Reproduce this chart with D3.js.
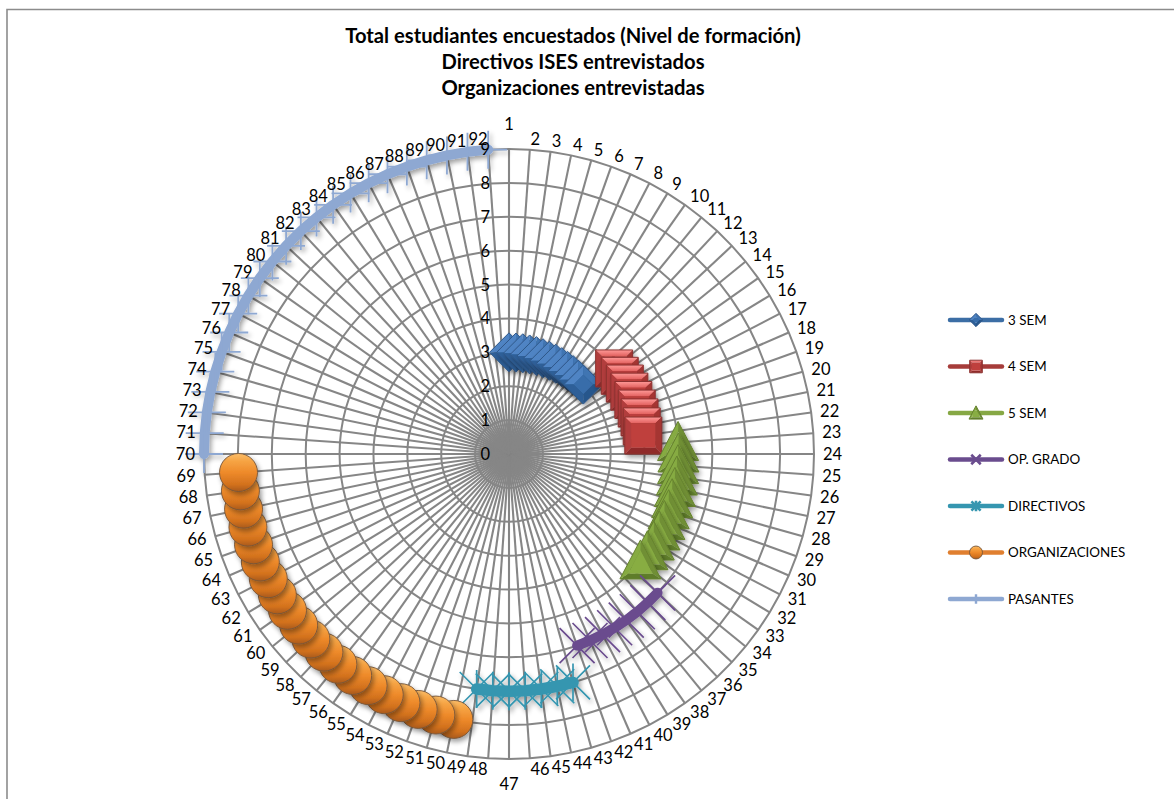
<!DOCTYPE html>
<html>
<head>
<meta charset="utf-8">
<script src="https://cdnjs.cloudflare.com/ajax/libs/d3/7.8.5/d3.min.js"></script>
<style>
html,body{margin:0;padding:0;background:#fff;overflow:hidden}
svg{display:block}
text{font-family:Lato,"Open Sans",sans-serif;fill:#000}
</style>
</head>
<body>
<svg id="c" width="1174" height="799"></svg>
<script>
const titleLines = ["Total estudiantes encuestados (Nivel de formación)", "Directivos ISES entrevistados", "Organizaciones entrevistadas"];
const categories = ["1","2","3","4","5","6","7","8","9","10","11","12","13","14","15","16","17","18","19","20","21","22","23","24","25","26","27","28","29","30","31","32","33","34","35","36","37","38","39","40","41","42","43","44","45","46","47","48","49","50","51","52","53","54","55","56","57","58","59","60","61","62","63","64","65","66","67","68","69","70","71","72","73","74","75","76","77","78","79","80","81","82","83","84","85","86","87","88","89","90","91","92"];
const valueTicks = [0,1,2,3,4,5,6,7,8,9];
const seriesNames = ["3 SEM","4 SEM","5 SEM","OP. GRADO","DIRECTIVOS","ORGANIZACIONES","PASANTES"];
const seriesFirstCategory = [1,14,23,35,43,50,70];
const sem3 = [3,3,3,3,3,3,3,3,3,3,3,3,3];
const sem4 = [4,4,4,4,4,4,4,4,4];
const sem5 = [5,5,5,5,5,5,5,5,5,5,5,5];
const opGrado = [6,6,6,6,6,6,6,6];
const directivos = [7,7,7,7,7,7,7];
const organizaciones = [8,8,8,8,8,8,8,8,8,8,8,8,8,8,8,8,8,8,8,8];
const pasantes = [9,9,9,9,9,9,9,9,9,9,9,9,9,9,9,9,9,9,9,9,9,9,9];
const seriesValues = [sem3,sem4,sem5,opGrado,directivos,organizaciones,pasantes];
const lineColors = ["#3c6ea5","#a63c3a","#86a844","#6a4c8e","#3596b0","#e07f2f","#8ea8d2"];
const strokeMarkerSeries = [3,4,6];

const svg = d3.select("#c");
const cx = 509, cy = 454;
const r = d3.scaleLinear().domain([0,9]).range([0,305]);
const angle = d3.scalePoint().domain(categories).range([0, 2*Math.PI*91/92]);
const gray = "#868686";

const defs = svg.append("defs");
const f = defs.append("filter").attr("id","sh").attr("x","-30%").attr("y","-30%").attr("width","170%").attr("height","170%");
f.append("feGaussianBlur").attr("in","SourceAlpha").attr("stdDeviation",2.4).attr("result","b");
f.append("feOffset").attr("in","b").attr("dx",1.5).attr("dy",3).attr("result","o");
f.append("feComponentTransfer").attr("in","o").attr("result","a").append("feFuncA").attr("type","linear").attr("slope",0.38);
const m = f.append("feMerge"); m.append("feMergeNode").attr("in","a"); m.append("feMergeNode").attr("in","SourceGraphic");
const vg = (id,stops)=>{const g=defs.append("linearGradient").attr("id",id).attr("x1",0).attr("x2",0).attr("y1",0).attr("y2",1);
  stops.forEach(s=>g.append("stop").attr("offset",s[0]).attr("stop-color",s[1]));};
vg("ball",[[0,"#fbbd68"],[0.2,"#f6a444"],[0.5,"#ee8a2a"],[0.82,"#d2711d"],[0.95,"#b4601a"],[1,"#a85a1c"]]);
vg("redTop",[[0,"#ff9a98"],[1,"#e2605e"]]);

function poly(g, pts, fill, stroke, sw){
  g.append("polygon").attr("points",pts.map(p=>p.join(",")).join(" ")).attr("fill",fill)
    .attr("stroke",stroke||"none").attr("stroke-width",sw||0).attr("stroke-linejoin","round");
}
function bevel(g, outer, inset, fills, line, center){
  const c = [d3.mean(outer,p=>p[0]), center===undefined?d3.mean(outer,p=>p[1]):center];
  const inner = outer.map(p=>[c[0]+(p[0]-c[0])*inset, c[1]+(p[1]-c[1])*inset]);
  outer.forEach((p,i)=>{const j=(i+1)%outer.length; poly(g,[p,outer[j],inner[j],inner[i]],fills[i]);});
  poly(g,inner,fills[fills.length-1]);
  poly(g,outer,"none",line,1);
}
const markers = [
  (g,s)=>{const a=19.5*s; bevel(g,[[-a,0],[0,-a],[a,0],[0,a]],0.5,["#4f84c4","#3f74b2","#26568c","#2d5f98","#386daa"],"#30588a");},
  (g,s)=>{const a=18.5*s; bevel(g,[[-a,-a],[a,-a],[a,a],[-a,a]],0.66,["url(#redTop)","#a53432","#8f2b29","#b23e3c","#bf403d"],"#8c3230");},
  (g,s)=>{const w=20.5*s; bevel(g,[[0,-21*s],[w,18*s],[-w,18*s]],0.6,["#6f8f34","#5f7d2c","#86ab42","#88ad43"],"#66822f",5*s);},
  (g,s,l)=>{const a=17.5*s; g.append("path").attr("d",`M${-a},${-a}L${a},${a}M${-a},${a}L${a},${-a}`).attr("stroke","#6a4c8e").attr("stroke-width",l?2.6:1.7).attr("fill","none");},
  (g,s,l)=>{const a=17*s,b=19*s; g.append("path").attr("d",`M${-a},${-a}L${a},${a}M${-a},${a}L${a},${-a}M0,${-b}L0,${b}`).attr("stroke","#3596b0").attr("stroke-width",l?2.6:1.7).attr("fill","none");},
  (g,s)=>{const a=19*s; g.append("circle").attr("r",a).attr("fill","url(#ball)").attr("stroke","#75553a").attr("stroke-width",0.9);},
  (g,s,l)=>{const a=19*s; g.append("path").attr("d",`M${-a},0L${a},0M0,${-a}L0,${a}`).attr("stroke","#8ea8d2").attr("stroke-width",l?2.4:1.8).attr("fill","none");}
];
const legendScale = [0.34,0.34,0.34,0.27,0.27,0.34,0.25];

const plot = svg.append("g").attr("transform",`translate(${cx},${cy})`);

// frame
svg.append("path").attr("d","M7,799V9.5H1174").attr("fill","none").attr("stroke","#8c8c8c").attr("stroke-width",1.6);

// grid rings and spokes
const ring = d3.lineRadial().curve(d3.curveLinearClosed).angle(c=>angle(c));
const gridG = plot.append("g").attr("fill","none").attr("stroke",gray).attr("stroke-width",2);
valueTicks.slice(1).forEach(v=>{ gridG.append("path").attr("d",ring.radius(()=>r(v))(categories)); });
gridG.selectAll("line").data(categories).join("line").attr("stroke-width",2.1)
  .attr("x2",c=>r(9)*Math.sin(angle(c))).attr("y2",c=>-r(9)*Math.cos(angle(c)));

// series
const pt = (c,v)=>[r(v)*Math.sin(angle(c)), -r(v)*Math.cos(angle(c))];
seriesValues.forEach((vals,i)=>{
  const first = seriesFirstCategory[i]-1;
  const rows = vals.map((v,k)=>({c:categories[first+k],v}));
  const flat = strokeMarkerSeries.includes(i);
  const g = plot.append("g");
  if (flat) g.attr("filter","url(#sh)");
  const line = d3.lineRadial().angle(d=>angle(d.c)).radius(d=>r(d.v));
  const lp = g.append("path").attr("d",line(rows)).attr("fill","none").attr("stroke",lineColors[i])
    .attr("stroke-width",i==4?11.5:10).attr("stroke-linecap","round").attr("stroke-linejoin","round");
  if (!flat) lp.attr("filter","url(#sh)");
  const mg = g.append("g");
  rows.forEach(d=>{
    const p = pt(d.c,d.v);
    const one = mg.append("g").attr("transform",`translate(${p[0]},${p[1]})`);
    if (!flat) one.attr("filter","url(#sh)");
    markers[i](one,1,false);
  });
});

// category labels
plot.selectAll("text.cat").data(categories).join("text").attr("class","cat")
  .attr("font-size",16.5).attr("dy","0.36em")
  .each(function(c){
    const a = angle(c), R = r(9), px = R*Math.sin(a), py = -R*Math.cos(a), s = Math.sin(a), co = Math.cos(a);
    const t = d3.select(this);
    if (Math.abs(s) < 1e-6) { t.attr("x",px).attr("y",py-25*co).attr("text-anchor","middle"); }
    else { t.attr("x",px+9*s).attr("y",py-11*co).attr("text-anchor",s>0?"start":"end"); }
  }).text(c=>c);

// value labels
plot.selectAll("text.val").data(valueTicks).join("text").attr("class","val")
  .attr("font-size",16.5).attr("dy","0.36em").attr("x",-19).attr("y",v=>-r(v)).attr("text-anchor","end")
  .text(v=>v);

// title
svg.selectAll("text.title").data(titleLines).join("text").attr("class","title")
  .attr("x",573).attr("text-anchor","middle").attr("font-weight",700).attr("font-size",20.2)
  .attr("y",(d,i)=>43+i*26).text(d=>d);

// legend
const legendY = d3.scalePoint().domain(seriesNames).range([320,599]);
seriesNames.forEach((n,i)=>{
  const g = svg.append("g").attr("transform",`translate(0,${legendY(n)})`);
  g.append("line").attr("x1",950).attr("x2",1002).attr("stroke",lineColors[i]).attr("stroke-width",4.5).attr("stroke-linecap","round");
  const mk = g.append("g").attr("transform","translate(976,0)");
  markers[i](mk, legendScale[i], true);
  g.append("text").attr("x",1008).attr("dy","0.36em").attr("font-size",13.4).text(n);
});
</script>
</body>
</html>
